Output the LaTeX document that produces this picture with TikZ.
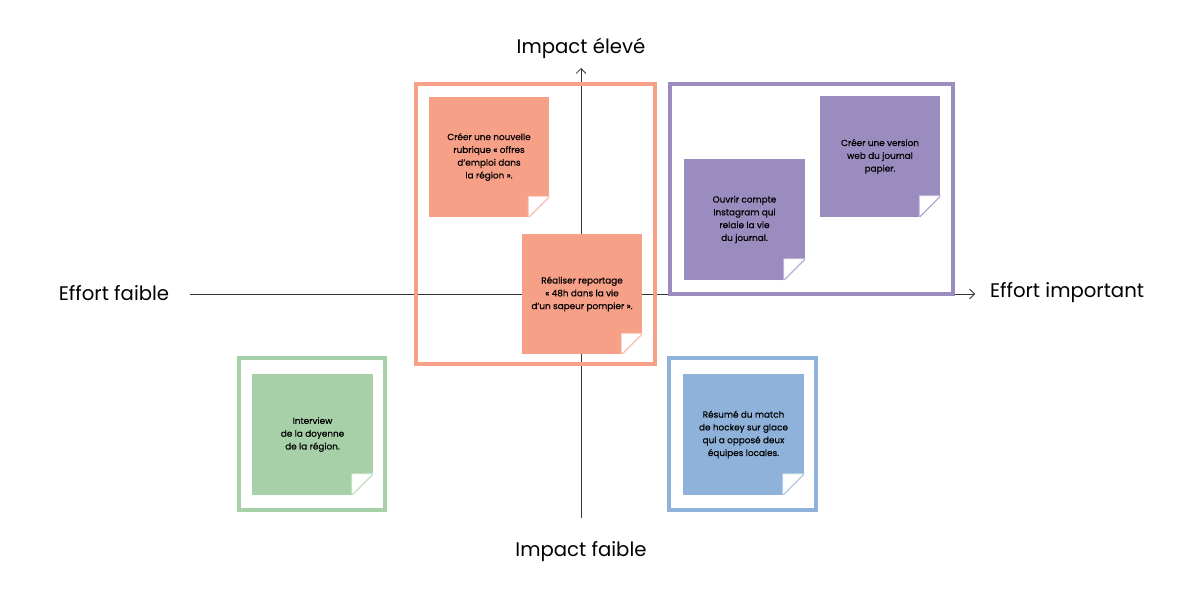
\documentclass[tikz,border=0pt]{standalone}
\usepackage{fontspec}
\setmainfont{Poppins}
\newfontfamily\notefont[FakeBold=0.5]{Poppins}
\usetikzlibrary{arrows.meta}
\definecolor{saumon}{HTML}{F7A088}
\definecolor{lavande}{HTML}{9B8CC0}
\definecolor{sauge}{HTML}{A8D0A8}
\definecolor{ciel}{HTML}{8FB2DA}
\tikzset{
  axe/.style={draw=black!80, line width=0.6pt},
  cadre/.style={line width=2.4pt},
  titre/.style={font=\fontsize{14}{16}\selectfont},
  postit/.style={fill=#1, minimum width=3cm, minimum height=3cm, inner sep=0pt,
    align=center, font=\notefont\fontsize{6.3}{9.1}\selectfont}
}
\begin{document}
\begin{tikzpicture}[x=0.025cm, y=-0.025cm]
    \useasboundingbox (0,0) rectangle (1201,599);

    % axes
    \coordinate (gauche) at (190,294);
    \coordinate (droite) at (975,294);
    \coordinate (bas) at (581,518);
    \coordinate (haut) at (581,68);
    \draw[axe, -{Straight Barb[length=3.5pt,width=7pt]}] (gauche) -- (droite);
    \draw[axe, -{Straight Barb[length=3.5pt,width=7pt]}] (bas) -- (haut);
    \node[titre] (eleve) at (581,48) {Impact élevé};
    \node[titre] (faible) at (581,552) {Impact faible};
    \node[titre] (effortfaible) at (114,293) {Effort faible};
    \node[titre] (effortimportant) at (1067,293) {Effort important};

    % quadrant frames
    \draw[cadre, saumon] (416,84) rectangle (655,364);
    \draw[cadre, lavande] (670,84) rectangle (953,294);
    \draw[cadre, sauge] (239,358) rectangle (385,510);
    \draw[cadre, ciel] (669,358) rectangle (816,510);

    % sticky notes
    \node[postit=saumon] (rubrique) at (489,157)
      {Créer une nouvelle\\rubrique « offres\\d’emploi dans\\la région ».};
    \node[postit=saumon] (reportage) at (582,294)
      {Réaliser reportage\\« 48h dans la vie\\d’un sapeur pompier ».};
    \node[postit=lavande] (instagram) at (744.5,219.5)
      {Ouvrir compte\\Instagram qui\\relaie la vie\\du journal.};
    \node[postit=lavande] (versionweb) at (880,156.5)
      {Créer une version\\web du journal\\papier.};
    \node[postit=sauge] (interview) at (312.5,434.5)
      {Interview\\de la doyenne\\de la région.};
    \node[postit=ciel] (hockey) at (743.5,434.5)
      {Résumé du match\\de hockey sur glace\\qui a opposé deux\\équipes locales.};

    % folded corners
    \foreach \n/\c in {rubrique/saumon, reportage/saumon, instagram/lavande,
                       versionweb/lavande, interview/sauge, hockey/ciel} {
        \fill[white] ([xshift=-5.25mm,yshift=-1pt]\n.south east)
          -- ([xshift=1pt,yshift=-1pt]\n.south east)
          -- ([xshift=1pt,yshift=5.25mm]\n.south east) -- cycle;
        \filldraw[fill=white, draw=\c!55!white, line width=0.5pt]
          ([xshift=-5.25mm]\n.south east)
          -- ([xshift=-5.25mm,yshift=5.25mm]\n.south east)
          -- ([yshift=5.25mm]\n.south east) -- cycle;
      }
\end{tikzpicture}
\end{document}
